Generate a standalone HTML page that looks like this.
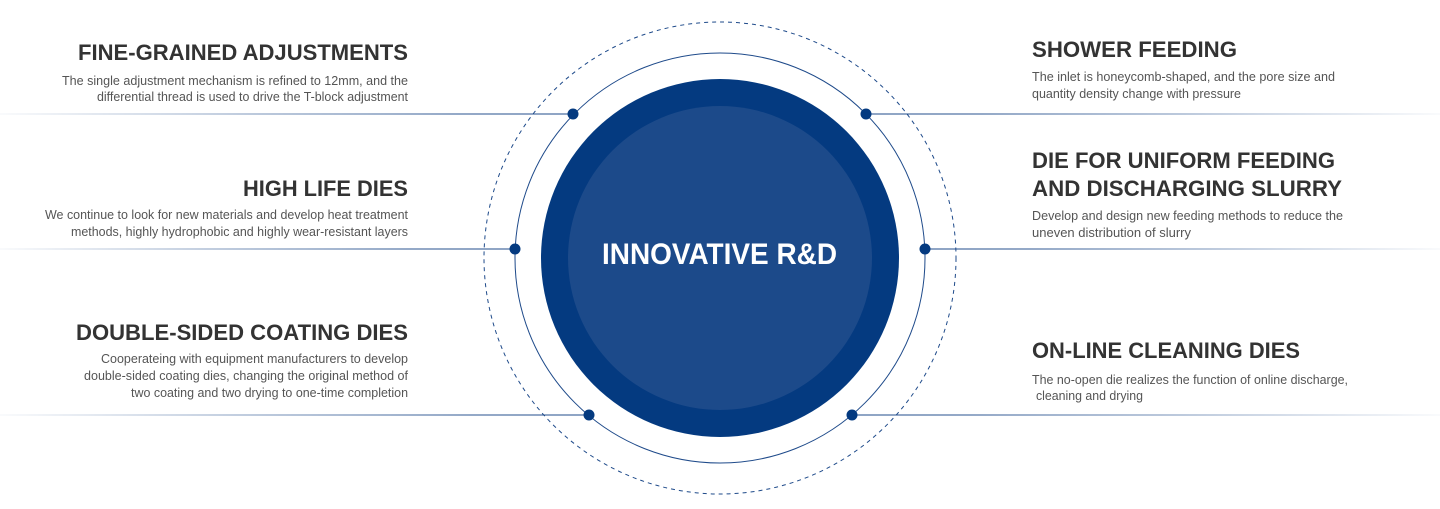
<!DOCTYPE html>
<html><head><meta charset="utf-8"><style>
html,body{margin:0;padding:0;background:#fff;}
svg{display:block;}
.h{font-family:"Liberation Sans",sans-serif;font-weight:bold;font-size:22px;fill:#333;}
.b{font-family:"Liberation Sans",sans-serif;font-size:13px;fill:#555;}
</style></head><body>
<svg width="1440" height="509" viewBox="0 0 1440 509" xmlns="http://www.w3.org/2000/svg">
<defs>
<linearGradient id="gl" x1="0" x2="1" y1="0" y2="0"><stop offset="0" stop-color="#1e4a8a" stop-opacity="0.05"/><stop offset="0.45" stop-color="#1e4a8a" stop-opacity="0.6"/><stop offset="0.8" stop-color="#1e4a8a" stop-opacity="0.95"/><stop offset="1" stop-color="#1e4a8a"/></linearGradient>
<linearGradient id="gr" x1="0" x2="1" y1="0" y2="0"><stop offset="0" stop-color="#1e4a8a"/><stop offset="0.2" stop-color="#1e4a8a" stop-opacity="0.95"/><stop offset="0.55" stop-color="#1e4a8a" stop-opacity="0.6"/><stop offset="1" stop-color="#1e4a8a" stop-opacity="0.05"/></linearGradient>
</defs>
<circle cx="720" cy="258" r="236" fill="none" stroke="#1e4a8a" stroke-width="1" stroke-dasharray="4 4"/>
<circle cx="720" cy="258" r="205" fill="none" stroke="#1e4a8a" stroke-width="1"/>
<circle cx="720" cy="258" r="179" fill="#043a80"/>
<circle cx="720" cy="258" r="152" fill="#1c4a8a"/>
<text x="719.5" y="264" text-anchor="middle" textLength="235" lengthAdjust="spacingAndGlyphs" font-family="Liberation Sans,sans-serif" font-weight="bold" font-size="30" fill="#fff">INNOVATIVE R&amp;D</text>

<rect x="0" y="113.5" width="573" height="1" fill="url(#gl)"/>
<rect x="0" y="248.5" width="515" height="1" fill="url(#gl)"/>
<rect x="0" y="414.5" width="589" height="1" fill="url(#gl)"/>
<rect x="866" y="113.5" width="574" height="1" fill="url(#gr)"/>
<rect x="925" y="248.5" width="515" height="1" fill="url(#gr)"/>
<rect x="852" y="414.5" width="588" height="1" fill="url(#gr)"/>
<g fill="#043a80">
<circle cx="573" cy="114" r="5.5"/><circle cx="515" cy="249" r="5.5"/><circle cx="589" cy="415" r="5.5"/>
<circle cx="866" cy="114" r="5.5"/><circle cx="925" cy="249" r="5.5"/><circle cx="852" cy="415" r="5.5"/>
</g>

<g text-anchor="end">
<text class="h" x="408" y="60" textLength="330" lengthAdjust="spacingAndGlyphs">FINE-GRAINED ADJUSTMENTS</text>
<text class="b" x="408" y="85" textLength="346" lengthAdjust="spacingAndGlyphs">The single adjustment mechanism is refined to 12mm, and the</text>
<text class="b" x="408" y="101" textLength="311" lengthAdjust="spacingAndGlyphs">differential thread is used to drive the T-block adjustment</text>
<text class="h" x="408" y="196" textLength="165" lengthAdjust="spacingAndGlyphs">HIGH LIFE DIES</text>
<text class="b" x="408" y="219" textLength="363" lengthAdjust="spacingAndGlyphs">We continue to look for new materials and develop heat treatment</text>
<text class="b" x="408" y="236" textLength="337" lengthAdjust="spacingAndGlyphs">methods, highly hydrophobic and highly wear-resistant layers</text>
<text class="h" x="408" y="340" textLength="332" lengthAdjust="spacingAndGlyphs">DOUBLE-SIDED COATING DIES</text>
<text class="b" x="408" y="363" textLength="307" lengthAdjust="spacingAndGlyphs">Cooperateing with equipment manufacturers to develop</text>
<text class="b" x="408" y="380" textLength="324" lengthAdjust="spacingAndGlyphs">double-sided coating dies, changing the  original method of</text>
<text class="b" x="408" y="397" textLength="277" lengthAdjust="spacingAndGlyphs">two coating and two drying to one-time completion</text>
</g>
<g>
<text class="h" x="1032" y="57" textLength="205" lengthAdjust="spacingAndGlyphs">SHOWER FEEDING</text>
<text class="b" x="1032" y="81" textLength="303" lengthAdjust="spacingAndGlyphs">The inlet is honeycomb-shaped, and the pore size  and</text>
<text class="b" x="1032" y="98" textLength="209" lengthAdjust="spacingAndGlyphs">quantity density change with pressure</text>
<text class="h" x="1032" y="168" textLength="303" lengthAdjust="spacingAndGlyphs">DIE FOR UNIFORM FEEDING</text>
<text class="h" x="1032" y="196" textLength="310" lengthAdjust="spacingAndGlyphs">AND DISCHARGING SLURRY</text>
<text class="b" x="1032" y="220" textLength="311" lengthAdjust="spacingAndGlyphs">Develop and design new feeding methods to reduce the</text>
<text class="b" x="1032" y="237">uneven distribution of slurry</text>
<text class="h" x="1032" y="358" textLength="268" lengthAdjust="spacingAndGlyphs">ON-LINE CLEANING DIES</text>
<text class="b" x="1032" y="384" textLength="316" lengthAdjust="spacingAndGlyphs">The no-open die realizes the function of online discharge,</text>
<text class="b" x="1036" y="400" textLength="107" lengthAdjust="spacingAndGlyphs">cleaning and drying</text>
</g>
</svg>
</body></html>
